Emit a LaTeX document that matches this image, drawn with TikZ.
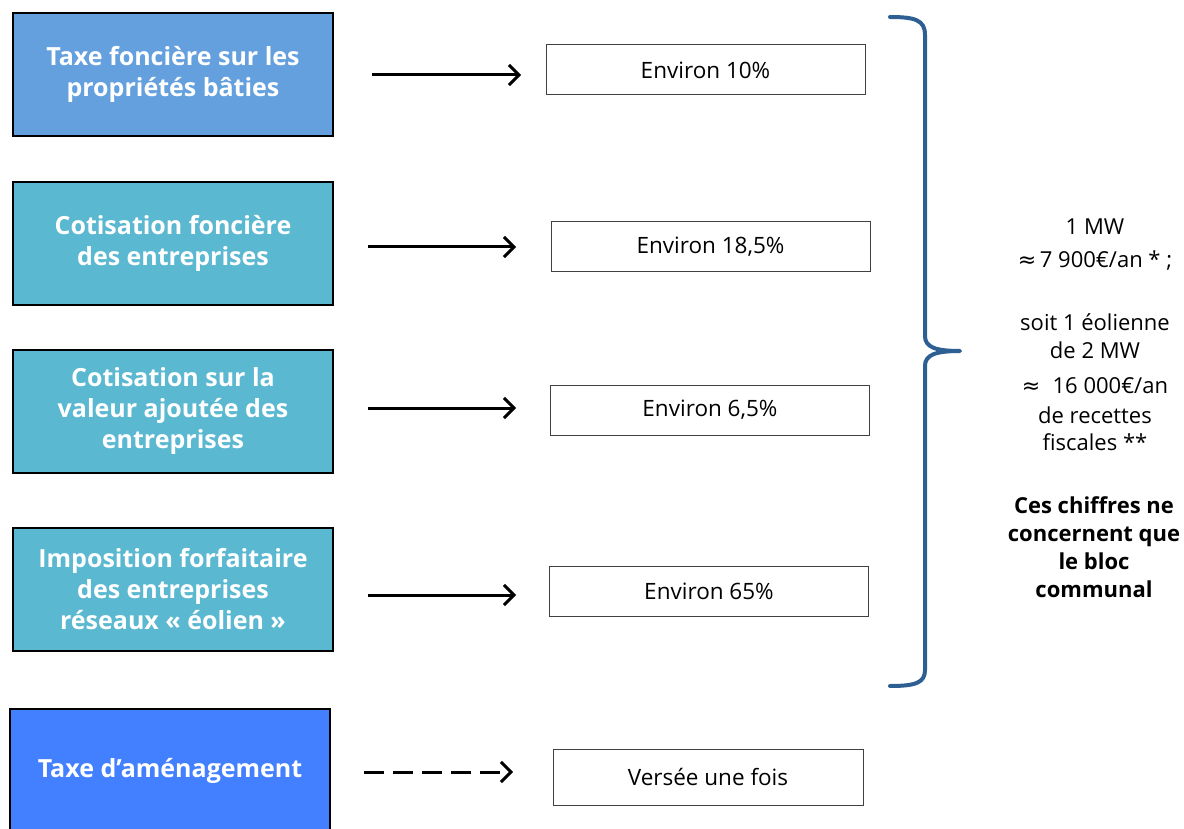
\documentclass[tikz,border=0pt]{standalone}
\usepackage{fontspec}
\setmainfont{Open Sans}
\newfontfamily\symf{DejaVu Sans}
\usetikzlibrary{arrows.meta}
\definecolor{bleuA}{HTML}{63A0DD}
\definecolor{turq}{HTML}{5BB8D1}
\definecolor{bleuB}{HTML}{4380FF}
\definecolor{brace}{HTML}{2E5F93}
\begin{document}
\begin{tikzpicture}[x=1pt,y=-1pt,
  taxbox/.style={draw=black,line width=2pt,minimum width=320pt,minimum height=123pt,inner sep=0pt,
     text=white,font=\fontsize{25}{31}\selectfont\bfseries,align=center},
  valbox/.style={draw=black!75,line width=1pt,minimum width=319pt,minimum height=50pt,inner sep=0pt,
     font=\fontsize{22.5}{26}\selectfont},
  arr/.style={line width=3pt,-{Straight Barb[length=10pt,width=20pt,line width=3pt]}},
  note/.style={font=\fontsize{22}{30}\selectfont,align=center}]
\useasboundingbox (0,0) rectangle (1184,829);
% left boxes
\node[taxbox,fill=bleuA] (t1) at (173,74.5) {Taxe foncière sur les\\propriétés bâties};
\node[taxbox,fill=turq] (t2) at (173,243.5) {Cotisation foncière\\des entreprises};
\node[taxbox,fill=turq] (t3) at (173,411.5) {Cotisation sur la\\valeur ajoutée des\\entreprises};
\node[taxbox,fill=turq] (t4) at (173,589.5) {Imposition forfaitaire\\des entreprises\\réseaux « éolien »};
\node[taxbox,fill=bleuB,minimum height=124pt] (t5) at (170,771) {Taxe d’aménagement};
% right boxes
\node[valbox] (v1) at (705.5,70) {Environ 10\%};
\node[valbox] (v2) at (710.5,247) {Environ 18,5\%};
\node[valbox] (v3) at (710,410) {Environ 6,5\%};
\node[valbox] (v4) at (709,591) {Environ 65\%};
\node[valbox,minimum width=310pt,minimum height=56pt] (v5) at (708,777) {Versée une fois};
% arrows
\coordinate (a1s) at (372,75); \coordinate (a1e) at (521,75);
\coordinate (a2s) at (368,247); \coordinate (a2e) at (516,247);
\coordinate (a3s) at (368,408); \coordinate (a3e) at (516,408);
\coordinate (a4s) at (368,595); \coordinate (a4e) at (516,595);
\coordinate (a5s) at (364,772); \coordinate (a5e) at (513,772);
\draw[arr] (a1s) -- (a1e);
\draw[arr] (a2s) -- (a2e);
\draw[arr] (a3s) -- (a3e);
\draw[arr] (a4s) -- (a4e);
\draw[arr,dash pattern=on 20pt off 9pt] (a5s) -- (a5e);
% brace
\coordinate (bt) at (890,17);
\coordinate (bm) at (960,351);
\coordinate (bb) at (890,686);
\draw[brace,line width=4pt,line cap=round,line join=round]
  (bt) .. controls (915,17) and (925,20) .. (925,35) -- (925,336)
  .. controls (925,347) and (935,351) .. (bm)
  .. controls (935,351) and (925,355) .. (925,366) -- (925,670)
  .. controls (925,683) and (915,686) .. (bb);
% note
\node[note,anchor=north] (n1) at (1095,215) {1 MW\\[3pt]{\symf ≈}\,7 900€/an * ;\\[33pt]soit 1 éolienne\\[-2pt]de 2 MW\\[5pt]{\symf ≈}\;\;16 000€/an\\de recettes\\[-3pt]fiscales **};
\node[note,font=\fontsize{22}{28}\selectfont\bfseries,anchor=north] (n2) at (1094,493) {Ces chiffres ne\\concernent que\\le bloc\\communal};
\end{tikzpicture}
\end{document}
